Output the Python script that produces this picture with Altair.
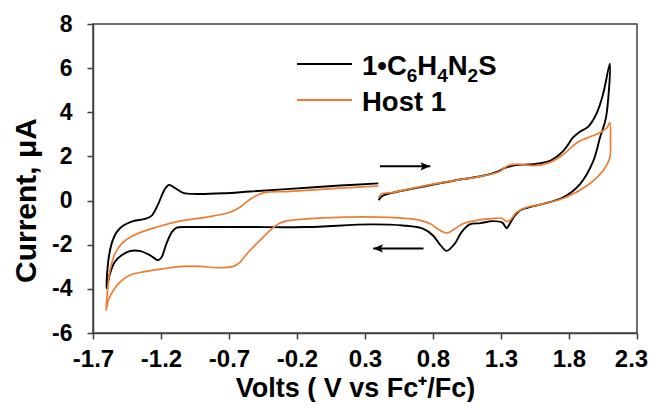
import altair as alt
import pandas as pd

# ---------------- data ----------------
series_names = ["1•C6H4N2S", "Host 1"]

# 1•C6H4N2S : scan starts at 0.4 V, forward to 2.1 V, back to -1.6 V, forward to 0.4 V
black_v = [0.40, 0.43, 0.50, 0.70, 0.95, 1.15, 1.27, 1.33, 1.40, 1.54, 1.66, 1.76, 1.83, 1.88, 1.94, 2.00, 2.05, 2.10,
           2.072, 2.028, 1.979, 1.881, 1.758, 1.611, 1.513, 1.44, 1.40, 1.36, 1.342, 1.31, 1.24, 1.15, 1.07, 1.01,
           0.96, 0.90, 0.85, 0.80, 0.73, 0.58, 0.34, -0.13, -0.55, -0.99, -1.085, -1.12, -1.16, -1.195, -1.22,
           -1.28, -1.35, -1.43, -1.49, -1.54, -1.575, -1.60,
           -1.587, -1.563, -1.526, -1.477, -1.404, -1.318, -1.268, -1.22, -1.171, -1.141, -1.097, -1.036, -0.938,
           -0.742, -0.546, -0.251, 0.116, 0.398]
black_i = [0.02, 0.22, 0.35, 0.60, 0.90, 1.10, 1.30, 1.48, 1.60, 1.65, 1.80, 2.26, 2.86, 3.12, 3.34, 3.91, 4.81, 6.20,
           3.76, 2.86, 1.80, 0.75, 0.15, -0.15, -0.30, -0.45, -0.70, -1.10, -1.25, -1.00, -0.93, -1.02, -1.08, -1.43,
           -1.95, -2.28, -1.98, -1.58, -1.28, -1.13, -1.08, -1.20, -1.20, -1.20, -1.23, -1.43, -1.95, -2.56, -2.70,
           -2.48, -2.29, -2.29, -2.48, -2.78, -3.31, -3.98,
           -2.71, -1.95, -1.43, -1.13, -0.93, -0.83, -0.68, -0.15, 0.53, 0.71, 0.57, 0.35, 0.30,
           0.33, 0.41, 0.53, 0.68, 0.78]

# Host 1
orange_v = [0.40, 0.42, 0.50, 0.70, 0.95, 1.15, 1.29, 1.35, 1.42, 1.54, 1.66, 1.76, 1.86, 1.93, 2.03, 2.08, 2.10,
            2.105, 2.10, 2.05, 1.95, 1.78, 1.61, 1.49, 1.415, 1.366, 1.342, 1.305, 1.22, 1.12, 1.02, 0.95, 0.90,
            0.85, 0.78, 0.68, 0.48, 0.00, -0.25, -0.325, -0.386, -0.472, -0.546, -0.60, -0.62, -0.668, -0.79,
            -0.91, -1.04, -1.18, -1.33, -1.43, -1.50, -1.55, -1.587, -1.604,
            -1.595, -1.575, -1.538, -1.489, -1.404, -1.232, -1.036, -0.864, -0.693, -0.619, -0.546, -0.448,
            -0.251, 0.116, 0.398]
orange_i = [0.12, 0.30, 0.36, 0.62, 0.90, 1.10, 1.32, 1.58, 1.65, 1.58, 1.73, 2.10, 2.63, 2.83, 3.08, 3.31, 3.53,
            2.71, 1.95, 1.35, 0.75, 0.15, -0.15, -0.30, -0.53, -0.90, -0.95, -0.80, -0.83, -0.90, -1.05, -1.32, -1.47,
            -1.35, -1.05, -0.86, -0.76, -0.78, -0.90, -1.02, -1.28, -1.80, -2.26, -2.65, -2.80, -2.98, -3.04,
            -2.98, -2.98, -3.08, -3.23, -3.38, -3.68, -4.06, -4.51, -4.99,
            -4.21, -3.16, -2.41, -1.95, -1.58, -1.20, -0.90, -0.75, -0.53, -0.30, 0.05, 0.35,
            0.42, 0.56, 0.66]

# scan-direction arrows
arrow_start_v = [0.41, 0.73]
arrow_end_v = [0.78, 0.36]
arrow_i = [1.55, -2.17]

x_ticks = [-1.7, -1.2, -0.7, -0.2, 0.3, 0.8, 1.3, 1.8, 2.3]
y_ticks = [-6, -4, -2, 0, 2, 4, 6, 8]

# ---------------- build ----------------
FONT = "Liberation Sans, Arial, sans-serif"
BLACK = "#000000"
ORANGE = "#ED7D31"
FRAME = "#404040"

df_black = pd.DataFrame({"V": black_v, "I": black_i, "order": range(len(black_v))})
df_orange = pd.DataFrame({"V": orange_v, "I": orange_i, "order": range(len(orange_v))})

x_scale = alt.Scale(domain=[-1.7, 2.3], nice=False, zero=False)
y_scale = alt.Scale(domain=[-6, 8], nice=False, zero=False)

lab_expr = "datum.value < 0 ? '-' + format(-datum.value, '{f}') : format(datum.value, '{f}')"

x_axis = alt.Axis(values=x_ticks, labelExpr=lab_expr.format(f=".1f"), grid=False,
                  tickSize=6, labelFontSize=24, labelPadding=8, labelFlush=False,
                  labelOffset={"condition": {"test": "datum.value > 2.2", "value": -6}, "value": 0},
                  titleFontSize=27, titleX=262, titleY=63, titleAnchor="middle",
                  titleAlign="center", titleBaseline="alphabetic")
y_axis = alt.Axis(values=y_ticks, labelExpr=lab_expr.format(f="d"), grid=False,
                  tickSize=6, labelFontSize=23, labelPadding=15, labelFlush=False,
                  titleFontSize=30, titleX=-58, titleY=176, titleAngle=270,
                  titleAlign="center", titleBaseline="alphabetic")

X = alt.X("V:Q", scale=x_scale, axis=x_axis, title="Volts ( V vs Fc⁺/Fc)")
Y = alt.Y("I:Q", scale=y_scale, axis=y_axis, title="Current, μA")

line_black = alt.Chart(df_black).mark_line(
    interpolate="catmull-rom", color=BLACK, strokeWidth=1.9, clip=True
).encode(x=X, y=Y, order="order:Q")

line_orange = alt.Chart(df_orange).mark_line(
    interpolate="catmull-rom", color=ORANGE, strokeWidth=1.7, clip=True
).encode(x=alt.X("V:Q"), y=alt.Y("I:Q"), order="order:Q")

head_right = "M0,0 L-1,-0.42 L-0.8,0 L-1,0.42 Z"
head_left = "M0,0 L1,-0.42 L0.8,0 L1,0.42 Z"

df_arrow = pd.DataFrame({"V": arrow_start_v, "V2": arrow_end_v, "I": arrow_i})
df_head = pd.DataFrame({"V": arrow_end_v, "I": arrow_i, "shape": [head_right, head_left]})

arrow_lines = alt.Chart(df_arrow).mark_rule(color=BLACK, strokeWidth=2).encode(
    x=alt.X("V:Q"), x2="V2:Q", y=alt.Y("I:Q"))
arrow_heads = alt.Chart(df_head).mark_point(
    filled=True, color=BLACK, opacity=1, size=380, strokeWidth=0
).encode(x=alt.X("V:Q"), y=alt.Y("I:Q"), shape=alt.Shape("shape:N", scale=None))

# ---------------- legend (pixel layout) ----------------
legend_layers = []
leg_x0, leg_x1 = 204, 259
legend_layers.append(
    alt.Chart(pd.DataFrame({"a": [0]})).mark_rule(color=BLACK, strokeWidth=1.9).encode(
        x=alt.value(leg_x0), x2=alt.value(leg_x1), y=alt.value(40)))
legend_layers.append(
    alt.Chart(pd.DataFrame({"a": [0]})).mark_rule(color=ORANGE, strokeWidth=1.9).encode(
        x=alt.value(leg_x0), x2=alt.value(leg_x1), y=alt.value(76)))

main_fs, sub_fs = 27.5, 19
widths = {"1": 0.556, "•": 0.35, "C": 0.722, "H": 0.722, "N": 0.722, "S": 0.667,
          "6": 0.556, "4": 0.556, "2": 0.556}
pieces = [("1•C", False), ("6", True), ("H", False), ("4", True), ("N", False), ("2", True), ("S", False)]
tx = 269.0
for txt, sub in pieces:
    fs = sub_fs if sub else main_fs
    legend_layers.append(
        alt.Chart(pd.DataFrame({"a": [0]})).mark_text(
            text=txt, font=FONT, fontWeight="bold", fontSize=fs, align="left",
            baseline="alphabetic", color=BLACK
        ).encode(x=alt.value(tx), y=alt.value(58 if sub else 51)))
    tx += sum(widths[c] for c in txt) * fs

legend_layers.append(
    alt.Chart(pd.DataFrame({"a": [0]})).mark_text(
        text="Host 1", font=FONT, fontWeight="bold", fontSize=main_fs, align="left",
        baseline="alphabetic", color=BLACK
    ).encode(x=alt.value(269), y=alt.value(87)))

chart = alt.layer(
    line_black, line_orange, arrow_lines, arrow_heads, *legend_layers
).properties(
    width=544, height=309,
    autosize=alt.AutoSizeParams(type="none"),
    padding={"left": 85, "top": 16, "right": 14, "bottom": 69},
).configure_view(
    stroke=FRAME, strokeWidth=1.5
).configure_axis(
    domainColor=FRAME, domainWidth=1.5, tickColor=FRAME, tickWidth=1.5,
    labelFont=FONT, labelFontWeight="bold", labelColor=BLACK,
    titleFont=FONT, titleFontWeight="bold", titleColor=BLACK,
)

chart.save("out.html", embed_options={"renderer": "svg", "actions": False})
